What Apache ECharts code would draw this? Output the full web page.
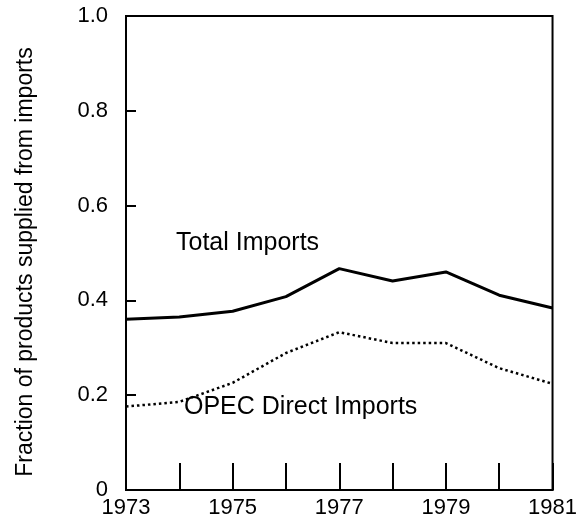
<!DOCTYPE html>
<html>
<head>
<meta charset="utf-8">
<script src="https://cdn.jsdelivr.net/npm/echarts@6/dist/echarts.min.js"></script>
<style>
  html, body { margin: 0; padding: 0; background: #fff; }
  #chart { width: 580px; height: 528px; }
</style>
</head>
<body>
<div id="chart"></div>
<script>
// years on the x axis
const years = [1973, 1974, 1975, 1976, 1977, 1978, 1979, 1980, 1981];
// fraction supplied from total imports
const totalImports = [0.360, 0.365, 0.377, 0.408, 0.467, 0.441, 0.460, 0.411, 0.384];
// fraction supplied from OPEC direct imports
const opecImports = [0.176, 0.186, 0.226, 0.289, 0.333, 0.310, 0.310, 0.257, 0.224];
const yTicks = [0, 0.2, 0.4, 0.6, 0.8, 1.0];

const chart = echarts.init(document.getElementById("chart"));
const font = "'Liberation Sans', Arial, Helvetica, sans-serif";

const option = {
  backgroundColor: "#fff",
  animation: false,
  grid: {
    left: 126,
    right: 27,
    top: 16,
    bottom: 38,
    show: true,
    borderColor: "#000",
    borderWidth: 2,
  },
  xAxis: {
    type: "value",
    min: years[0],
    max: years[years.length - 1],
    interval: 1,
    splitLine: { show: false },
    axisLine: { lineStyle: { color: "#000", width: 2 } },
    axisTick: { inside: true, length: 27, lineStyle: { color: "#000", width: 2 } },
    axisLabel: {
      color: "#000",
      fontFamily: font,
      fontSize: 22,
      margin: 7,
      formatter: (v) => (v % 2 === 1 ? String(v) : ""),
    },
  },
  yAxis: {
    type: "value",
    min: yTicks[0],
    max: yTicks[yTicks.length - 1],
    interval: 0.2,
    name: "Fraction of products supplied from imports",
    nameLocation: "middle",
    nameGap: 89,
    nameTextStyle: {
      color: "#000",
      fontFamily: font,
      fontSize: 23,
      padding: [0, 18, 0, 0],
    },
    splitLine: { show: false },
    axisLine: { lineStyle: { color: "#000", width: 2 } },
    axisTick: { inside: true, length: 10, lineStyle: { color: "#000", width: 2 } },
    axisLabel: {
      color: "#000",
      fontFamily: font,
      fontSize: 22,
      margin: 18,
      formatter: (v) => (v === 0 ? "0" : v.toFixed(1)),
    },
  },
  series: [
    {
      name: "Total Imports",
      type: "line",
      data: years.map((y, i) => [y, totalImports[i]]),
      showSymbol: false,
      lineStyle: { color: "#000", width: 3 },
    },
    {
      name: "OPEC Direct Imports",
      type: "line",
      data: years.map((y, i) => [y, opecImports[i]]),
      showSymbol: false,
      lineStyle: { color: "#000", width: 2.5, type: [2.5, 3] },
    },
  ],
  graphic: [
    {
      type: "text",
      left: 176,
      top: 231,
      style: { text: "Total Imports", font: "25px " + font, fill: "#000" },
    },
    {
      type: "text",
      left: 184,
      top: 395,
      style: { text: "OPEC Direct Imports", font: "25px " + font, fill: "#000" },
    },
  ],
};

chart.setOption(option);
</script>
</body>
</html>
